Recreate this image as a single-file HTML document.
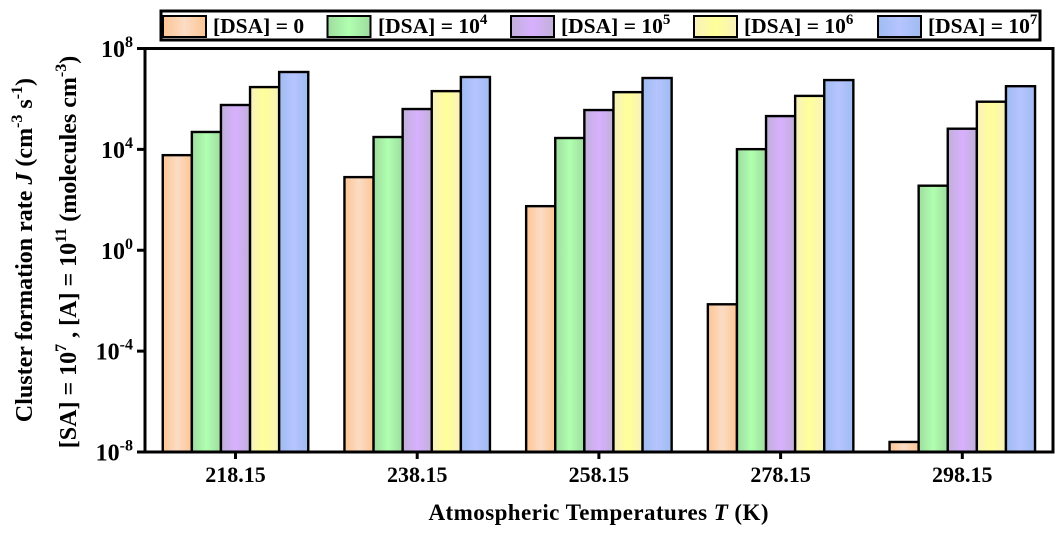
<!DOCTYPE html>
<html>
<head>
<meta charset="utf-8">
<style>
html,body{margin:0;padding:0;background:#fff;}
svg{display:block;}
text{font-family:"Liberation Serif",serif;font-weight:bold;fill:#000;}
.lg{font-size:21.5px;}
.ti{font-size:22px;}
.ax{font-size:23px;}
.yt{font-size:24px;}
.yl{font-size:24px;}
</style>
</head>
<body>
<svg id="chart" width="1064" height="533" viewBox="0 0 1064 533" xmlns="http://www.w3.org/2000/svg">
<defs>
<linearGradient id="g0"><stop offset="0" stop-color="#fdc594"/><stop offset=".5" stop-color="#fbdcc4"/><stop offset="1" stop-color="#fdc594"/></linearGradient>
<linearGradient id="g1"><stop offset="0" stop-color="#9edc9f"/><stop offset=".5" stop-color="#b0ffb0"/><stop offset="1" stop-color="#9edc9f"/></linearGradient>
<linearGradient id="g2"><stop offset="0" stop-color="#c0b0d8"/><stop offset=".5" stop-color="#d8b0ff"/><stop offset="1" stop-color="#c0b0d8"/></linearGradient>
<linearGradient id="g3"><stop offset="0" stop-color="#f8f2bc"/><stop offset=".5" stop-color="#ffff99"/><stop offset="1" stop-color="#f8f2bc"/></linearGradient>
<linearGradient id="g4"><stop offset="0" stop-color="#9fbcf0"/><stop offset=".5" stop-color="#b6c4ff"/><stop offset="1" stop-color="#9fbcf0"/></linearGradient>
</defs>

<g id="bars"></g>
<g id="axes">
  <rect x="145" y="48.5" width="908" height="403.5" fill="none" stroke="#000" stroke-width="3"/>
</g>

<g>
  <rect x="161" y="11" width="879" height="29" fill="#fff" stroke="#000" stroke-width="3"/>
  <g>
    <rect x="163" y="16" width="43" height="21" fill="url(#g0)" stroke="#000" stroke-width="2"/>
    <text class="lg" x="213" y="33">[DSA] = 0</text>
  </g>
  <g>
    <rect x="327.500" y="16" width="43" height="21" fill="url(#g1)" stroke="#000" stroke-width="2"/>
    <text class="lg" x="378" y="33">[DSA] = 10<tspan font-size="15" dy="-9">4</tspan></text>
  </g>
  <g>
    <rect x="511" y="16" width="43" height="21" fill="url(#g2)" stroke="#000" stroke-width="2"/>
    <text class="lg" x="561" y="33">[DSA] = 10<tspan font-size="15" dy="-9">5</tspan></text>
  </g>
  <g>
    <rect x="694" y="16" width="43" height="21" fill="url(#g3)" stroke="#000" stroke-width="2"/>
    <text class="lg" x="744" y="33">[DSA] = 10<tspan font-size="15" dy="-9">6</tspan></text>
  </g>
  <g>
    <rect x="878" y="16" width="43" height="21" fill="url(#g4)" stroke="#000" stroke-width="2"/>
    <text class="lg" x="928" y="33">[DSA] = 10<tspan font-size="15" dy="-9">7</tspan></text>
  </g>
</g>

<text class="ax" x="598.500" y="520" text-anchor="middle" textLength="340" lengthAdjust="spacing">Atmospheric Temperatures <tspan font-style="italic">T</tspan> (K)</text>

<text class="yt" transform="translate(32,250) rotate(-90)" text-anchor="middle">Cluster formation rate <tspan font-style="italic">J</tspan> (cm<tspan font-size="16" dy="-10">-3</tspan><tspan dy="10"> s</tspan><tspan font-size="16" dy="-10">-1</tspan><tspan dy="10">)</tspan></text>
<text class="yt" transform="translate(76,252) rotate(-90)" text-anchor="middle">[SA] = 10<tspan font-size="16" dy="-10">7</tspan><tspan dy="10"> , [A] = 10</tspan><tspan font-size="16" dy="-10">11</tspan><tspan dy="10"> (molecules cm</tspan><tspan font-size="16" dy="-10">-3</tspan><tspan dy="10">)</tspan></text>

<script>
const categories = ['218.15', '238.15', '258.15', '278.15', '298.15'];
const dsa0 = [5900, 794, 56, 0.0072, 2.5e-8];
const dsa1e4 = [49000, 30900, 28200, 10200, 363];
const dsa1e5 = [575000, 398000, 363000, 209000, 66000];
const dsa1e6 = [2950000, 2040000, 1860000, 1320000, 776000];
const dsa1e7 = [11700000, 7400000, 6760000, 5600000, 3200000];
const yTickExponents = [8, 4, 0, -4, -8];

const seriesList = [dsa0, dsa1e4, dsa1e5, dsa1e6, dsa1e7];
const seriesNames = ['dsa-0', 'dsa-1e4', 'dsa-1e5', 'dsa-1e6', 'dsa-1e7'];
const NS = 'http://www.w3.org/2000/svg';
const plot = {left: 145, right: 1053, top: 48.5, bottom: 452};

function yScale(v) {
  return plot.top + (8 - Math.log10(v)) * (plot.bottom - plot.top) / 16;
}
function xCenter(i) {
  return 235.5 + i * ((962.3 - 235.5) / (categories.length - 1));
}
const barW = 29.1;

const barsG = document.getElementById('bars');
seriesList.forEach(function (vals, s) {
  vals.forEach(function (v, i) {
    const r = document.createElementNS(NS, 'rect');
    const y = yScale(v);
    r.setAttribute('x', xCenter(i) + (s - 2.5) * barW);
    r.setAttribute('y', y);
    r.setAttribute('width', barW);
    r.setAttribute('height', plot.bottom - y);
    r.setAttribute('fill', 'url(#g' + s + ')');
    r.setAttribute('stroke', '#000');
    r.setAttribute('stroke-width', '2.4');
    
    
    barsG.appendChild(r);
  });
});

const axesG = document.getElementById('axes');
yTickExponents.forEach(function (e) {
  const y = yScale(Math.pow(10, e));
  const l = document.createElementNS(NS, 'line');
  l.setAttribute('x1', 137);
  l.setAttribute('x2', plot.left);
  l.setAttribute('y1', y);
  l.setAttribute('y2', y);
  l.setAttribute('stroke', '#000');
  l.setAttribute('stroke-width', '3');
  
  
  axesG.appendChild(l);
  const t = document.createElementNS(NS, 'text');
  t.setAttribute('class', 'yl');
  t.setAttribute('x', 133);
  t.setAttribute('y', y + 8.5);
  t.setAttribute('text-anchor', 'end');
  
  
  t.appendChild(document.createTextNode('10'));
  const sup = document.createElementNS(NS, 'tspan');
  sup.setAttribute('font-size', '16');
  sup.setAttribute('dy', '-10');
  sup.textContent = String(e);
  t.appendChild(sup);
  axesG.appendChild(t);
});
categories.forEach(function (c, i) {
  const x = xCenter(i);
  const l = document.createElementNS(NS, 'line');
  l.setAttribute('x1', x);
  l.setAttribute('x2', x);
  l.setAttribute('y1', plot.bottom);
  l.setAttribute('y2', 459);
  l.setAttribute('stroke', '#000');
  l.setAttribute('stroke-width', '3');
  
  
  axesG.appendChild(l);
  const t = document.createElementNS(NS, 'text');
  t.setAttribute('class', 'ti');
  t.setAttribute('x', x);
  t.setAttribute('y', 482);
  t.setAttribute('text-anchor', 'middle');
  
  
  t.textContent = c;
  axesG.appendChild(t);
});
</script>
</svg>
</body>
</html>
